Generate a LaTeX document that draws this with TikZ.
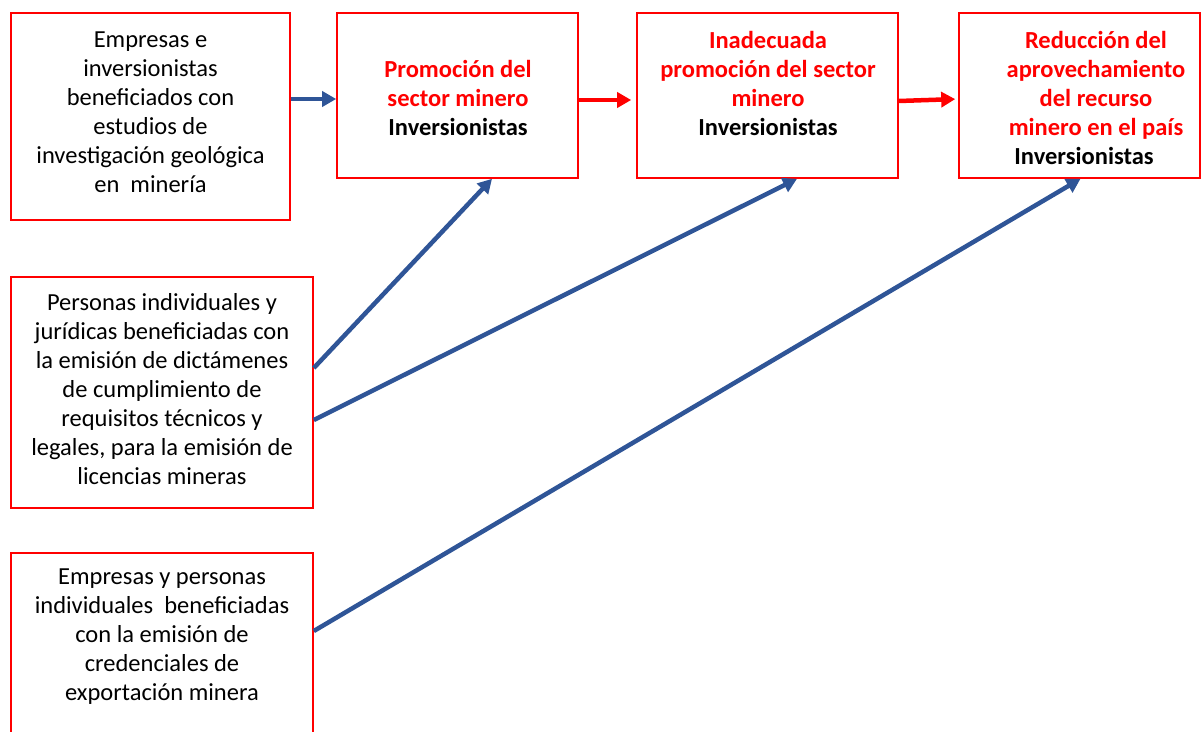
\documentclass[tikz,border=0pt]{standalone}
\usepackage{fontspec}
\setmainfont{Carlito}
\usetikzlibrary{arrows.meta}
\definecolor{boxred}{RGB}{255,0,0}
\definecolor{arrblue}{RGB}{47,85,151}
\begin{document}
\begin{tikzpicture}[x=1pt,y=-1pt,
  box/.style={draw=boxred, line width=1.6pt, inner sep=0pt, fill=white},
  txt/.style={align=center, inner sep=0pt, font=\fontsize{24.5}{29}\selectfont},
  blue arrow/.style={draw=arrblue, line width=4.5pt, -{Triangle[length=14pt,width=15pt]}},
  red arrow/.style={draw=boxred, line width=4.5pt, -{Triangle[length=14pt,width=15pt]}}]
\useasboundingbox (0,0) rectangle (1201,731);
\clip (0,0) rectangle (1201,731);
% boxes
\node[box, minimum width=279pt, minimum height=207pt] (a) at (150.5,116.5) {};
\node[box, minimum width=241pt, minimum height=165pt] (p1) at (457.5,95.5) {};
\node[box, minimum width=261pt, minimum height=165pt] (p2) at (767.5,95.5) {};
\node[box, minimum width=241pt, minimum height=165pt] (p3) at (1079.5,95.5) {};
\node[box, minimum width=302pt, minimum height=231pt] (b) at (162,392.5) {};
\node[box, minimum width=302pt, minimum height=187pt] (c) at (162,646.5) {};
% texts
\node[txt] (at) at (150.5,112.5) {Empresas e\\inversionistas\\beneficiados con\\estudios de\\investigación geológica\\en\ \ minería};
\node[txt] (p1t) at (458,98) {\textcolor{boxred}{\textbf{Promoción del}}\\\textcolor{boxred}{\textbf{sector minero}}\\\textbf{Inversionistas}};
\node[txt] (p2t) at (768,83.5) {\textcolor{boxred}{\textbf{Inadecuada}}\\\textcolor{boxred}{\textbf{promoción del sector}}\\\textcolor{boxred}{\textbf{minero}}\\\textbf{Inversionistas}};
\node[txt] (p3t) at (1096,98) {\textcolor{boxred}{\textbf{Reducción del}}\\\textcolor{boxred}{\textbf{aprovechamiento}}\\\textcolor{boxred}{\textbf{del recurso}}\\\textcolor{boxred}{\textbf{minero en el país}}\\\textbf{Inversionistas}\hspace*{24pt}};
\node[txt] (bt) at (162,389) {Personas individuales y\\jurídicas beneficiadas con\\la emisión de dictámenes\\de cumplimiento de\\requisitos técnicos y\\legales, para la emisión de\\licencias mineras};
\node[txt] (ct) at (162,637) {Empresas y personas\\individuales\ \ beneficiadas\\con la emisión de\\credenciales de\\exportación minera};
% connectors
\draw[blue arrow] ([yshift=17.5pt]a.east) -- ([yshift=-3.5pt]p1.west);
\draw[red arrow, shorten >=5pt] ([yshift=-4.5pt]p1.east) -- ([yshift=-4.5pt]p2.west);
\draw[red arrow, shorten >=3pt] ([yshift=-5.5pt]p2.east) -- ([yshift=-3.5pt]p3.west);
\draw[blue arrow] ([yshift=24.5pt]b.east) -- ([xshift=34.5pt]p1.south);
\draw[blue arrow] ([yshift=-27.5pt]b.east) -- ([xshift=29.5pt]p2.south);
\draw[blue arrow] ([yshift=15.5pt]c.east) -- ([xshift=1pt]p3.south);
\end{tikzpicture}
\end{document}
